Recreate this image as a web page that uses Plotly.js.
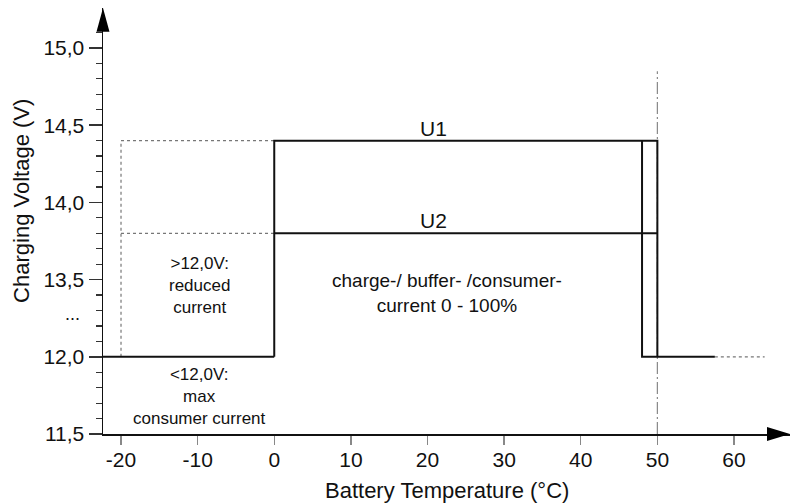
<!DOCTYPE html>
<html>
<head>
<meta charset="utf-8">
<script src="https://cdn.plot.ly/plotly-3.0.1.min.js"></script>
<style>html,body{margin:0;padding:0;background:#fff;}#chart{width:800px;height:503px;}</style>
</head>
<body>
<div id="chart"></div>
<script>
// ---- data (voltages in V, temperatures in °C) ----
const axisStartT = -22.35;                 // where the y axis sits
const lowLevelT = [axisStartT, 0];          // 12.0 V before 0 °C
const lowLevelV = [12.0, 12.0];
const u1T = [0, 0, 50, 50];                 // U1 profile
const u1V = [12.0, 14.4, 14.4, 12.0];
const u2T = [0, 50];                        // U2 level
const u2V = [13.8, 13.8];
const cutoffT = [48, 48, 57.5];             // cutoff at 48 °C, then back to 12.0 V
const cutoffV = [14.4, 12.0, 12.0];
const dotU1T = [-20, 0];  const dotU1V = [14.4, 14.4];
const dotU2T = [-20, 0];  const dotU2V = [13.8, 13.8];
const dotLeftT = [-20, -20]; const dotLeftV = [12.0, 14.4];
const dotRightT = [57.5, 64]; const dotRightV = [12.0, 12.0];
const limitT = [50, 50];  const limitV = [11.5, 14.85];

const xTickVals = [-20, -10, 0, 10, 20, 30, 40, 50, 60];
const xTickText = ["-20", "-10", "0", "10", "20", "30", "40", "50", "60"];
const yTickVolts = [11.5, 12.0, 13.5, 14.0, 14.5, 15.0];
const yTickText = ["11,5", "12,0", "13,5", "14,0", "14,5", "15,0"];

// broken axis: 12.0 V and below are drawn 1 V higher (gap 12.0 .. 13.5)
function ax(v) { return v <= 12.0 ? v + 1.0 : v; }
const map = a => a.map(ax);

const FONT = "Liberation Sans, Arial, Helvetica, sans-serif";
const solid = {color: '#111', width: 2};
const dotted = {color: '#777', width: 1.2, dash: 'dot'};

const traces = [
  {x: limitT, y: map(limitV), line: {color: '#888', width: 1.2, dash: '12px,3px,2px,3px'}},
  {x: dotU1T, y: map(dotU1V), line: dotted},
  {x: dotU2T, y: map(dotU2V), line: dotted},
  {x: dotLeftT, y: map(dotLeftV), line: dotted},
  {x: dotRightT, y: map(dotRightV), line: dotted},
  {x: lowLevelT, y: map(lowLevelV), line: solid},
  {x: u1T, y: map(u1V), line: solid},
  {x: u2T, y: map(u2V), line: solid},
  {x: cutoffT, y: map(cutoffV), line: solid}
].map(t => Object.assign({type: 'scatter', mode: 'lines', hoverinfo: 'skip', showlegend: false, cliponaxis: false}, t));

const minorVals = [];
for (let i = 1; i <= 26; i++) minorVals.push(+(12.5 + i * 0.1).toFixed(2));

const txt = (s, x, y, size, extra) => Object.assign({
  text: s, x: x, y: y, xref: 'x', yref: 'y', showarrow: false,
  font: {family: FONT, size: size, color: '#111'}, align: 'center'
}, extra || {});

const layout = {
  width: 800, height: 503,
  margin: {l: 103, r: 10, t: 8, b: 69},
  paper_bgcolor: '#fff', plot_bgcolor: '#fff',
  font: {family: FONT, color: '#111'},
  showlegend: false,
  xaxis: {
    range: [axisStartT, 67.31], showgrid: false, zeroline: false,
    showline: true, linecolor: '#111', linewidth: 1.5,
    ticks: 'outside', ticklen: 9, tickwidth: 1.5, tickcolor: '#888',
    tickmode: 'array', tickvals: xTickVals, ticktext: xTickText,
    tickfont: {family: FONT, size: 21, color: '#111'},
    ticklabelstandoff: -3
  },
  yaxis: {
    range: [12.5, 15.259], showgrid: false, zeroline: false,
    showline: true, linecolor: '#111', linewidth: 1.5,
    ticks: 'outside', ticklen: 13, tickwidth: 1.5, tickcolor: '#333',
    tickmode: 'array', tickvals: yTickVolts.map(ax), ticktext: yTickText,
    tickfont: {family: FONT, size: 21, color: '#111'},
    minor: {tickmode: 'array', tickvals: minorVals, ticks: 'outside', ticklen: 6, tickwidth: 1.2, tickcolor: '#333'}
  },
  shapes: [
    {type: 'path', xref: 'paper', yref: 'paper', path: 'M -0.00946 0.944 L 0 1 L 0.00946 0.944 Z', fillcolor: '#000', line: {width: 0}},
    {type: 'path', xref: 'paper', yref: 'paper', path: 'M 0.9665 0.0163 L 1 0 L 0.9665 -0.0163 Z', fillcolor: '#000', line: {width: 0}}
  ],
  annotations: [
    {text: 'Battery Temperature (°C)', xref: 'paper', yref: 'paper', x: 0.5, y: -0.133, xanchor: 'center', yanchor: 'middle',
     showarrow: false, font: {family: FONT, size: 22, color: '#111'}},
    {text: 'Charging Voltage (V)', xref: 'paper', yref: 'paper', x: -0.118, y: 0.547, xanchor: 'center', yanchor: 'middle',
     textangle: -90, showarrow: false, font: {family: FONT, size: 22, color: '#111'}},
    txt('U1', 20.8, ax(14.4), 21, {yanchor: 'bottom', yshift: -1}),
    txt('U2', 20.8, ax(13.8), 21, {yanchor: 'bottom', yshift: -1}),
    txt('charge-/ buffer- /consumer-<br>current 0 - 100%', 22.6, 13.41, 19),
    txt('>12,0V:<br>reduced<br>current', -9.7, 13.465, 17),
    txt('<12,0V:<br>max<br>consumer current', -9.7, 12.74, 17),
    {text: '...', xref: 'paper', x: -0.058, y: 13.28, yref: 'y', showarrow: false, font: {family: FONT, size: 18, color: '#111'}}
  ]
};

Plotly.newPlot('chart', traces, layout, {staticPlot: true, displayModeBar: false});
</script>
</body>
</html>
